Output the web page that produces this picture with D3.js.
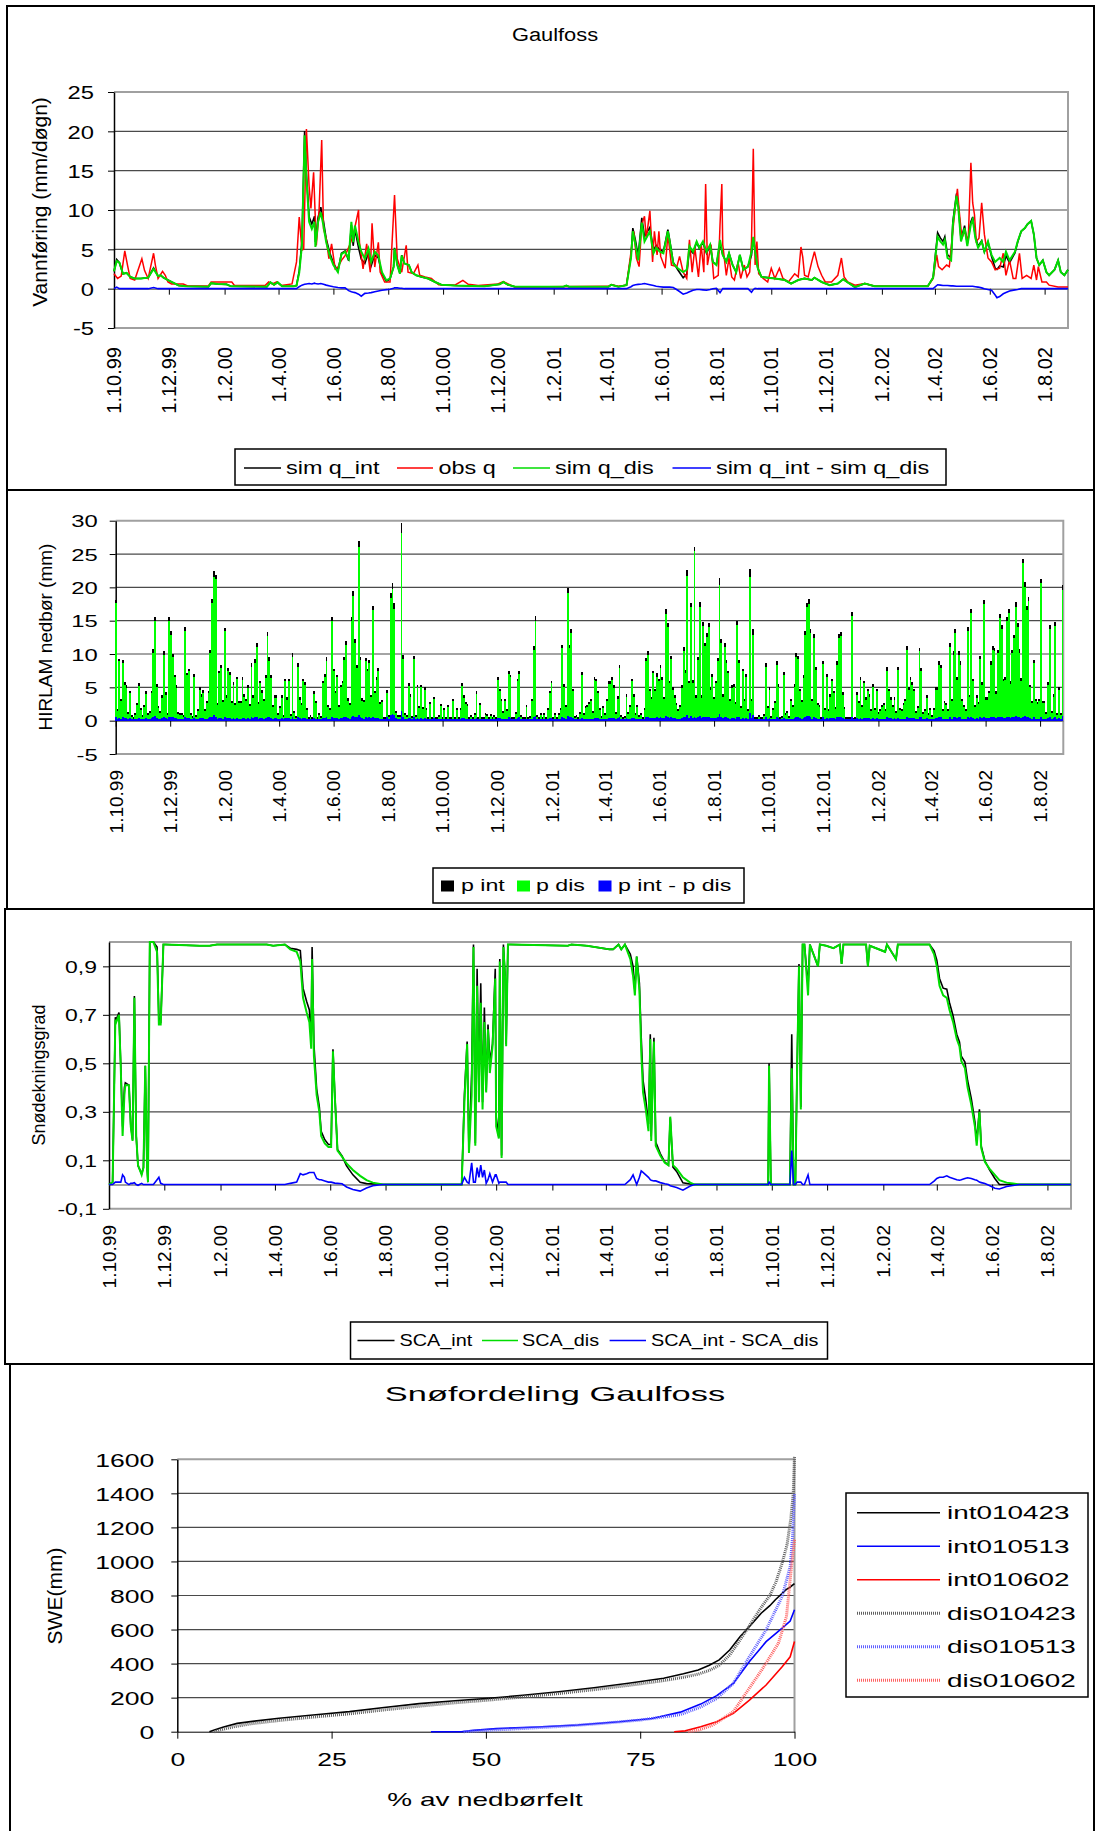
<!DOCTYPE html>
<!-- Gaulfoss: runoff, HIRLAM precipitation, snow cover and SWE distribution -->
<meta charset="utf-8">
<style>
 body { margin: 0; background: #fff; }
 svg text { font-family: "Liberation Sans", Arial, sans-serif; fill: #000; }
 .frame { fill: none; stroke: #000; stroke-width: 2px; }
 .grid { stroke: #4a4a4a; stroke-width: 1.2px; }
 .box { fill: none; stroke: #a0a0a0; stroke-width: 2px; }
 .legend { fill: #fff; stroke: #000; stroke-width: 1.5px; }
</style>

<svg id="chart" width="1095" height="1831"></svg>

<script src="https://cdn.jsdelivr.net/npm/d3@7"></script>

<script>
 // ---- panel 1: runoff (mm/day), day offsets from 1.10.99 ----
 var qDays = [0,3,6,10,14,18,23,30,38,44,
              49,52,55,60,64,72,80,105,108,115,
              125,130,170,174,178,182,187,200,203,206,
              209,212,214,217,220,223,224,227,230,233,
              236,240,244,249,253,257,261,264,266,268,
              272,275,279,283,286,290,294,298,303,307,
              311,312,315,318,320,323,328,331,336,342,
              349,357,364,379,398,412,429,433,438,446,
              500,503,506,550,553,561,570,575,577,580,
              583,587,590,596,600,603,607,611,616,618,
              622,627,633,637,640,644,648,651,655,659,
              663,666,670,674,677,681,684,688,692,696,
              700,705,709,711,713,716,720,727,735,746,
              753,761,768,776,779,787,796,805,811,816,
              824,835,846,905,911,916,919,922,924,927,
              931,933,937,939,942,946,949,953,955,958,
              961,965,968,972,976,980,982,985,989,992,
              996,1002,1005,1009,1013,1016,1020,1023,1026,1029,
              1033,1037,1040,1046,1050,1053,1057,1061];
 var qDis = [2.2,3.5,3.3,1.9,2.0,1.5,1.3,1.3,1.4,2.5,
             1.6,1.7,1.4,1.1,0.85,0.4,0.3,0.25,0.7,0.6,
             0.55,0.3,0.25,0.8,0.5,0.8,0.3,0.3,0.4,2.0,
             5.5,19.5,14,8.5,7.6,8.5,5.3,8.5,9.7,8.0,
             5.9,4.2,3.0,2.1,4.4,4.7,3.8,8.5,5.9,8.0,
             5.9,4.7,3.8,5.1,3.4,4.7,4.2,2.1,1.05,1.3,
             2.75,5.1,3.0,1.9,4.2,3.2,3.0,2.1,1.7,1.5,
             1.3,0.85,0.5,0.4,0.35,0.3,0.55,0.85,0.5,0.25,
             0.25,0.4,0.25,0.25,0.5,0.25,0.45,3.9,7.3,5.6,
             3.6,8.4,6.0,7.3,4.5,5.2,4.7,4.5,7.3,6.0,
             3.2,2.6,2.1,2.4,5.4,4.7,6.0,5.2,6.0,4.7,
             5.6,3.4,3.0,6.2,4.3,3.4,4.5,3.0,2.1,4.3,
             2.4,2.8,4.7,6.6,4.7,2.6,1.5,1.4,1.3,1.1,
             0.65,1.1,1.3,1.1,1.4,0.85,0.45,0.65,1.2,0.8,
             0.2,0.65,0.3,0.3,1.4,6.6,6.0,5.6,6.2,3.9,
             3.6,8.2,11.8,10.3,6.0,7.7,5.4,8.2,8.8,6.4,
             5.2,6.0,4.7,6.0,4.3,3.4,3.6,3.9,3.4,4.7,
             3.6,4.7,6.0,7.3,7.7,8.2,8.6,6.9,3.9,3.0,
             3.6,2.1,1.7,2.4,3.6,2.1,1.7,2.4];
 // sim q_int - sim q_dis (blue line)
 var qDiff = [0,0.2,0,0,0,0,0,0,0,0.15,
              0,0,0,0,0,0,0,0,0,0,
              0,0,0,0,0,0,0,0,0,0.25,
              0.45,0.55,0.6,0.65,0.6,0.7,0.65,0.6,0.65,0.55,
              0.45,0.35,0.25,0.15,0.1,0.1,-0.25,-0.4,-0.45,-0.5,
              -0.7,-0.95,-0.6,-0.55,-0.5,-0.4,-0.3,-0.2,-0.12,-0.08,
              0.05,0.1,0.1,0.05,0.05,0,0,0,0,0,
              0,0,0,0,0,0,0,0,0,0,
              0,0,0,0,0,0,0,0.25,0.4,0.5,
              0.55,0.6,0.65,0.5,0.4,0.3,0.25,0.2,0.2,0.2,
              0.15,-0.2,-0.7,-0.55,-0.4,-0.2,-0.1,-0.1,-0.15,-0.2,
              -0.1,0,0.05,-0.5,0,0,0,0,0,0,
              0,0,-0.45,-0.1,0.05,0,0,0,0,0,
              0,0,0,0,0,0,0,0,0,0,
              0,0,0,0,0,0.5,0.45,0.4,0.4,0.4,
              0.35,0.35,0.3,0.3,0.3,0.3,0.3,0.3,0.3,0.25,
              0.2,0.1,0,-0.1,-0.2,-0.8,-1.15,-1.0,-0.65,-0.5,
              -0.3,-0.15,-0.1,0,0,0,0,0,0,0,
              0,0,0,0,0,0,0,0];
 var qObsDays = [0,4,8,12,15,18,23,31,34,38,
                 44,46,49,54,57,60,64,70,77,82,
                 105,108,131,134,168,172,176,181,186,198,
                 203,206,209,211,214,217,219,222,225,228,
                 231,233,236,239,242,246,249,253,257,262,
                 266,272,273,277,281,285,287,290,294,296,
                 301,307,312,315,320,325,327,333,338,340,
                 346,353,361,379,388,394,405,427,433,440,
                 446,550,553,561,570,576,578,581,584,587,
                 590,592,596,599,601,604,606,608,613,616,
                 620,626,629,633,637,640,643,646,650,653,
                 656,658,660,664,667,672,674,676,677,681,
                 684,687,690,694,697,701,704,707,709,711,
                 713,715,717,722,727,731,735,740,744,750,
                 757,761,764,766,768,772,776,779,783,787,
                 791,798,805,809,812,816,824,835,846,905,
                 911,915,917,921,926,929,934,938,940,943,
                 946,950,953,955,957,959,962,965,968,972,
                 976,980,985,989,992,996,1000,1003,1007,1010,
                 1015,1020,1023,1026,1028,1032,1037,1040,1050,1061];
 var qObs = [1.9,1.3,1.6,4.8,3.0,1.3,1.1,3.8,2.3,1.3,
             4.5,3.0,1.3,2.2,1.7,0.85,0.6,0.6,0.6,0.35,
             0.35,0.85,0.85,0.4,0.4,0.85,0.6,0.85,0.4,0.6,
             3.4,9.1,4.9,5.0,20.3,13.0,10.2,14.8,5.5,9.7,
             18.9,7.6,6.4,3.8,5.7,2.5,2.75,3.6,4.2,5.5,
             6.8,10.0,5.9,2.5,5.7,2.1,8.3,2.75,5.9,2.1,
             0.85,0.85,11.9,3.8,2.1,5.5,2.1,1.9,3.0,1.7,
             1.5,1.3,0.5,0.45,1.05,0.55,0.4,0.6,0.9,0.5,
             0.2,0.3,0.5,0.3,0.45,5.5,7.3,3.9,2.8,8.2,
             9.2,6.4,9.9,3.4,7.3,4.3,7.3,4.1,2.6,6.9,
             3.0,2.8,4.1,2.1,1.3,6.2,2.1,5.2,1.5,5.6,
             2.1,13.3,3.0,5.6,1.3,1.7,8.2,13.3,5.6,1.7,
             3.9,1.5,1.1,3.4,1.3,3.0,1.5,2.1,6.0,17.8,
             3.0,6.0,1.9,1.3,0.85,2.6,1.3,2.6,1.3,0.85,
             1.9,1.5,5.3,4.0,1.7,1.5,3.4,4.7,2.8,1.7,
             0.85,0.85,1.7,3.9,1.5,0.85,0.45,0.65,0.3,0.3,
             1.3,4.3,2.8,2.4,3.0,2.8,8.6,12.7,9.9,6.4,
             7.3,6.0,16.0,10.9,9.4,6.0,6.4,10.9,6.9,3.9,
             3.4,2.4,2.6,4.5,1.7,3.6,1.3,1.3,4.5,1.3,
             1.7,1.3,3.0,1.1,2.8,0.85,0.85,0.45,0.2,0.2];

 // ---- panel 2: HIRLAM precipitation (mm), one bar per 2 days from 1.10.99 ----
 var pStep = 2;
 var pDis = [17.6,1.5,8.9,2.9,8.6,5.4,4.9,1.0,4.1,0.5,
             0.3,0.8,2.4,5.2,1.6,0.6,2.1,4.0,0.8,1.2,
             4.1,10.1,14.9,5.1,1.9,1.2,3.4,9.9,3.9,0.8,
             14.9,12.9,9.5,6.5,4.9,1.0,0.8,0.9,0.6,13.4,
             6.8,7.4,0.9,0.4,6.6,0.5,1.4,4.6,3.6,4.2,
             1.5,2.6,4.1,10.1,17.6,21.6,21.3,2.4,7.1,7.9,
             2.8,13.4,3.4,7.5,6.9,2.6,5.4,2.4,6.2,2.6,
             2.6,6.1,3.6,2.9,4.9,2.2,8.1,3.4,8.7,11.1,
             2.5,5.6,4.2,2.9,6.4,12.7,9.0,6.4,2.0,3.4,
             3.4,0.8,1.9,3.4,0.6,5.9,3.1,5.9,0.7,9.6,
             1.1,0.4,8.1,3.1,2.4,5.9,5.4,1.6,0.3,0.6,
             0.2,4.0,2.6,0.3,0.9,0.4,5.6,6.6,9.0,2.0,
             1.6,14.9,7.4,4.1,6.5,2.1,5.0,5.6,9.1,11.4,
             3.0,2.4,14.9,18.7,11.6,7.9,26.0,9.1,3.0,2.8,
             8.9,7.4,8.6,3.5,16.6,4.1,6.1,7.5,2.5,2.8,
             0.3,0.2,4.1,0.5,18.4,19.7,16.7,1.1,0.6,0.5,
             28.2,9.2,0.8,0.5,5.2,3.6,0.4,9.2,0.6,5.0,
             1.9,5.0,1.8,4.6,1.6,0.3,2.5,0.3,3.2,0.2,
             0.3,0.5,2.2,0.3,1.6,0.2,2.0,0.3,0.2,2.9,
             0.2,1.6,0.3,1.6,5.2,3.4,2.5,2.2,0.2,0.5,
             0.2,0.9,4.0,0.3,2.4,0.3,0.2,0.9,0.7,0.2,
             0.7,0.2,0.6,0.3,6.1,4.4,2.9,1.2,2.9,1.4,
             7.0,6.5,0.3,0.2,1.0,5.9,7.0,0.6,0.2,0.3,
             2.1,0.2,0.4,2.9,10.6,15.0,0.6,0.3,0.9,0.2,
             0.9,0.3,1.6,4.1,5.6,0.3,0.9,0.2,0.9,1.6,
             10.9,5.1,2.0,19.2,10.9,13.1,4.4,0.4,0.6,0.3,
             1.0,6.9,0.9,1.9,2.1,2.5,2.9,1.2,6.1,5.9,
             4.1,1.6,0.4,1.9,0.8,2.9,5.5,5.5,6.1,4.9,
             1.0,3.3,7.9,0.6,0.2,0.4,3.6,1.0,2.1,5.9,
             3.6,0.8,2.1,0.6,0.9,0.3,1.6,8.9,9.9,4.4,
             3.2,7.1,4.4,6.6,5.9,7.9,6.1,3.2,16.0,14.1,
             5.6,9.2,4.6,3.4,2.4,1.5,2.0,4.9,10.4,7.1,
             21.7,5.6,17.0,5.7,25.5,3.4,9.1,17.1,3.4,14.2,
             11.2,12.6,14.1,4.6,6.6,3.2,5.6,8.9,20.4,11.7,
             3.6,11.1,8.6,7.1,3.0,4.9,5.1,2.5,14.4,8.6,
             1.9,7.4,2.9,6.6,1.5,21.6,2.9,12.9,0.3,0.2,
             0.6,0.2,0.3,0.7,8.1,1.9,4.6,0.4,1.6,2.6,
             8.4,5.1,0.3,0.4,6.9,0.9,1.1,0.4,2.9,2.0,
             5.1,9.6,9.2,4.4,2.8,6.4,12.9,17.0,17.5,13.2,
             3.0,12.4,7.6,2.4,2.1,0.2,8.5,1.6,6.6,1.5,
             3.6,5.9,4.1,1.7,8.4,12.4,12.7,3.9,1.7,0.3,
             0.2,0.3,15.7,0.1,0.3,3.9,2.6,6.1,2.0,5.6,
             3.1,4.4,3.6,1.5,5.1,1.6,4.4,1.0,1.4,2.1,
             2.4,1.5,7.5,4.4,3.1,2.1,3.1,1.2,7.6,1.6,
             1.4,2.4,2.9,10.6,4.6,6.1,5.4,4.4,1.2,1.9,
             10.4,7.4,1.0,1.4,3.4,0.8,1.6,0.6,1.6,4.6,
             4.6,8.4,7.9,1.5,2.6,2.4,1.4,11.1,3.0,9.9,
             13.2,6.1,9.9,8.4,3.0,2.1,1.4,13.4,3.5,16.2,
             5.9,2.0,3.4,2.5,9.2,5.4,17.5,3.1,3.1,4.1,
             8.4,10.6,10.4,4.0,10.1,15.4,13.7,5.9,6.1,14.9,
             16.2,5.5,10.1,12.4,17.1,14.0,10.2,6.0,23.6,20.1,
             16.6,18.0,5.0,2.6,8.6,2.9,2.5,3.0,20.7,2.6,
             2.6,1.0,5.4,13.7,1.2,3.6,14.2,0.9,4.6,0.9,
             19.6];
 // p int - p dis (blue bars)
 var pDiff = [.5,.3,.4,.3,.5,.4,.4,.3,.4,.3,
              .3,.3,.3,.4,.3,.3,.3,.4,.3,.3,
              .4,.6,.7,.4,.3,.3,.4,.5,.4,.3,
              .6,.5,.5,.4,.4,.3,.3,.3,.3,.6,
              .4,.4,.3,.3,.4,.3,.3,.4,.4,.4,
              .3,.3,.4,.5,.6,.8,.5,.3,.4,.4,
              .3,.5,.4,.4,.4,.3,.4,.3,.4,.3,
              .3,.4,.4,.3,.4,.3,.5,.4,.5,.5,
              .3,.4,.4,.3,.4,.6,.5,.4,.3,.4,
              .4,.3,.3,.4,.3,.4,.4,.4,.3,.5,
              .3,.3,.5,.4,.3,.4,.4,.3,.3,.3,
              .3,.4,.3,.3,.3,.3,.4,.4,.5,.3,
              .3,.6,.4,.4,.4,.3,.4,.4,.5,.6,
              .4,.3,.6,.7,.6,.5,.9,.5,.4,.3,
              .5,.4,.5,.4,.6,.4,.4,.4,.3,.3,
              .3,.3,.5,.3,.8,1.0,.9,.4,.3,.3,
              1.4,.6,.3,.3,.4,.4,.3,.5,.3,.4,
              .3,.4,.3,.4,.3,.3,.3,.3,.4,.3,
              .3,.3,.3,.3,.3,.3,.3,.3,.3,.3,
              .3,.3,.3,.3,.4,.4,.3,.3,.3,.3,
              .3,.3,.4,.3,.3,.3,.3,.3,.3,.3,
              .3,.3,.3,.3,.4,.4,.3,.3,.3,.3,
              .5,.4,.3,.3,.3,.4,.5,.3,.3,.3,
              .3,.3,.3,.3,.6,.7,.3,.3,.3,.3,
              .3,.3,.3,.4,.4,.3,.3,.3,.3,.3,
              .5,.4,.3,.7,.5,.6,.4,.3,.3,.3,
              .3,.4,.3,.3,.3,.3,.3,.3,.4,.4,
              .4,.3,.3,.3,.3,.3,.4,.4,.4,.4,
              .3,.4,.5,.3,.3,.3,.4,.3,.3,.4,
              .4,.3,.3,.3,.3,.3,.3,.5,.5,.4,
              .4,.4,.4,.5,.4,.5,.4,.4,.7,.6,
              .4,.5,.4,.4,.3,.3,.3,.4,.6,.5,
              .9,.4,.7,.4,.5,.4,.5,.7,.4,.6,
              .5,.6,.6,.4,.4,.4,.4,.5,1.0,.5,
              .4,.5,.5,.4,.3,.4,.4,.3,.6,.5,
              .3,.4,.3,.4,.3,1.2,.4,.9,.3,.3,
              .3,.3,.3,.3,.5,.3,.4,.3,.3,.3,
              .5,.4,.3,.3,.4,.3,.3,.3,.3,.3,
              .4,.5,.5,.4,.3,.4,.6,.7,.7,.6,
              .3,.6,.4,.3,.3,.3,.5,.3,.4,.3,
              .4,.4,.4,.3,.5,.6,.6,.4,.3,.3,
              .3,.3,.6,.3,.3,.4,.3,.4,.3,.4,
              .4,.4,.4,.3,.4,.3,.4,.3,.3,.3,
              .3,.3,.5,.4,.4,.3,.4,.3,.4,.3,
              .3,.3,.3,.6,.4,.4,.4,.4,.3,.3,
              .5,.5,.3,.3,.4,.3,.3,.3,.3,.4,
              .4,.5,.5,.3,.3,.3,.3,.5,.3,.5,
              .6,.4,.5,.5,.3,.3,.3,.6,.4,.6,
              .4,.3,.4,.3,.5,.4,.6,.4,.4,.4,
              .5,.6,.5,.4,.5,.6,.6,.4,.4,.6,
              .6,.4,.5,.5,.7,.6,.5,.4,.6,.7,
              .6,.6,.4,.3,.5,.3,.3,.3,.6,.3,
              .3,.3,.4,.6,.3,.4,.6,.3,.4,.3,
              .7];

 // ---- panel 3: snow covered area fraction ----
 var scaDays = [0,4,7,8,11,13,15,17,18,22,
                24,26,28,30,32,36,38,40,42,43,
                45,49,53,55,57,60,62,100,111,119,
                135,174,181,194,200,207,211,214,218,221,
                223,224,226,229,232,234,238,242,245,247,
                249,252,257,262,269,277,284,291,302,389,
                392,395,397,400,402,404,406,408,410,412,
                414,416,418,420,423,426,427,430,431,433,
                435,437,438,440,443,506,510,527,552,556,
                562,565,569,575,578,580,582,585,587,589,
                592,595,597,598,601,603,608,613,617,619,
                622,626,633,641,646,727,728,730,751,753,
                755,757,759,761,763,765,767,771,773,782,
                784,791,799,806,808,810,835,837,839,856,
                858,868,870,905,910,913,916,920,924,927,
                931,935,938,940,944,947,951,955,957,960,
                962,966,971,977,982,990,997,1004,1061];
 var scaDis = [0,0.01,0.68,0.67,0.70,0.48,0.2,0.37,0.41,0.41,
               0.24,0.18,0.77,0.2,0.08,0.04,0.07,0.49,0.07,0.01,
               1,1,0.96,0.66,0.66,0.99,0.99,0.985,0.985,0.99,
               0.99,0.99,0.985,0.99,0.97,0.96,0.92,0.77,0.71,0.67,
               0.56,0.93,0.53,0.37,0.30,0.2,0.17,0.155,0.155,0.55,
               0.37,0.14,0.115,0.087,0.06,0.036,0.018,0.008,0,0,
               0.34,0.58,0.13,0.37,0.98,0.16,0.82,0.34,0.75,0.31,
               0.67,0.38,0.64,0.46,0.57,0.85,0.24,0.19,0.92,0.11,
               0.98,0.84,0.57,0.99,0.99,0.985,0.99,0.985,0.97,0.97,
               0.99,0.97,0.99,0.93,0.86,0.78,0.94,0.80,0.55,0.38,
               0.31,0.22,0.6,0.18,0.59,0.16,0.12,0.09,0.08,0.28,
               0.08,0.066,0.03,0.008,0,0,0.49,0,0,0.48,
               0,0,0.49,0.9,0.31,0.99,0.99,0.78,0.99,0.9,
               0.99,0.985,0.975,0.99,0.91,0.99,0.99,0.9,0.985,0.96,
               0.99,0.93,0.99,0.99,0.95,0.9,0.82,0.78,0.77,0.72,
               0.67,0.6,0.57,0.51,0.48,0.4,0.33,0.24,0.16,0.30,
               0.15,0.094,0.066,0.04,0.018,0.008,0.004,0,0];
 // SCA_int - SCA_dis (blue line)
 var scaDiff = [0,0,0.01,0.01,0.01,0.01,0.04,0.03,0.01,0,
                0.005,0.005,0.008,0,-0.003,0.005,0,0,0,0,
                0,0,0.02,0.03,0.005,0,0,0,0,0,
                0,0,0,0,0.005,0.01,0.045,0.04,0.045,0.05,
                0.05,0.05,0.05,0.025,0.02,0.02,0.015,0.01,0.01,0.008,
                0.006,0.005,0.003,-0.01,-0.02,-0.027,-0.014,-0.005,0,0,
                0.03,0.01,0.005,0.09,0.01,0.01,0.07,0.03,0.08,0.03,
                0.06,0.005,0.02,0.045,0.01,0.04,0.04,0.005,0.01,0.01,
                0.01,0.01,0.01,0,0,0,0,0,0,0,
                0,0,0,0.02,0.04,0.02,0,0.03,0.056,0.05,
                0.04,0.03,0.02,0.018,0.015,0.015,0.008,0.003,0,-0.005,
                -0.008,-0.012,-0.023,-0.006,0,0,0.01,0,0,0.14,
                0,0,0.01,0.01,0.01,0,0,0.04,0,0,
                0,0,0,0,0,0,0,0,0,0,
                0,0,0,0,0.014,0.025,0.03,0.03,0.036,0.03,
                0.025,0.02,0.018,0.02,0.025,0.028,0.025,0.02,0.018,0.01,
                0.008,0.004,-0.004,-0.015,-0.018,-0.008,-0.004,0,0];

 // ---- panel 4: SWE distribution, [% of catchment, SWE mm] ----
 var int010423 = [[5.2,0],[6,10],[7.5,28],[9.7,49],[12.5,62],[16.5,79],[22,98],[27.9,118],[33.5,142],[39.2,165],
                  [45,182],[50.5,196],[56,214],[61.8,235],[67.5,258],[73.1,285],[78.8,314],[82,340],[84.4,363],
                  [86.2,390],[87.8,422],[89.5,480],[91.2,559],[93,630],[94.6,696],[96,740],[96.9,775],[98.6,833],
                  [99.3,850],[100,870]];
 var int010513 = [[41.1,0],[46,0],[48,8],[51.7,18],[58.3,28],[64.9,39],[71.6,58],[76.9,78],[81.5,115],[84.8,162],
                  [87.4,212],[90.1,284],[92.7,412],[95.4,529],[98,608],[99.3,650],[100,716]];
 var int010602 = [[80.5,0],[82.3,5],[84.8,29],[87.4,59],[90.1,108],[92.7,186],[95.4,274],[98,382],[99.3,440],[100,530]];
 var dis010423 = [[6,0],[7,10],[9,28],[12,47],[16.5,66],[22,86],[27.9,105],[33.5,128],[39.2,150],[45,170],
                  [50.5,186],[56,204],[61.8,224],[67.5,247],[73.1,272],[78.8,300],[82,320],[84.4,338],[86.2,360],
                  [87.8,390],[89.5,450],[91.2,540],[93,640],[94.6,730],[96,800],[97,880],[98,990],[98.8,1100],
                  [99.4,1250],[99.8,1400],[100,1620]];
 var dis010513 = [[46.4,0],[50.4,8],[55,17],[61.6,30],[68.3,47],[74.9,68],[81.5,100],[84.8,145],[87.4,195],
                  [90.1,284],[92.7,441],[95.4,598],[98,794],[99.3,970],[99.7,1150],[100,1400]];
 var dis010602 = [[82.8,0],[84.5,10],[86.8,39],[90.1,118],[92.1,225],[94.7,363],[97.4,520],[98.7,677],[99.4,931],[100,1128]];

 // ---------------------------------------------------------------
 var svg = d3.select("#chart");

 var t0 = new Date(1999, 9, 1);
 function day(d) { return d3.timeDay.offset(t0, d); }
 var tickDates = d3.timeMonth.range(t0, new Date(2002, 8, 1), 2);
 var fmtDate = d3.timeFormat("%-d.%-m.%y");
 var no = d3.formatLocale({decimal: ",", thousands: "", grouping: [3], currency: ["", ""], minus: "-"});

 // the original picture is stretched sideways, so widen the glyphs the same way
 function stretch(sel, k) {
     sel.each(function() {
	 var t = d3.select(this);
	 var x = +t.attr("x") || 0;
	 t.attr("x", x / k).attr("transform", "scale(" + k + ",1)");
     });
 }

 function label(x, y, txt, size, k, anchor) {
     var t = svg.append("text").attr("x", x).attr("y", y)
		.attr("font-size", size).attr("text-anchor", anchor || "start").text(txt);
     if (k) stretch(t, k);
     return t;
 }

 function vlabel(x, y, txt, size) {
     return svg.append("text").attr("transform", "translate(" + x + "," + y + ") rotate(-90)")
	       .attr("font-size", size).attr("text-anchor", "middle").text(txt);
 }

 // outer frames of the four pasted charts
 [[7, 6, 1087, 484], [7, 490, 1087, 419], [5, 909, 1089, 455], [10, 1364, 1084, 480]].forEach(function(r) {
     svg.append("rect").attr("class", "frame")
	.attr("x", r[0]).attr("y", r[1]).attr("width", r[2]).attr("height", r[3]);
 });

 // common frame for the three date panels
 function datePanel(x, y, o) {
     var g = svg.append("g");
     var xr = x.range(), yr = y.range();

     g.selectAll(".grid").data(o.grid).enter().append("line")
      .attr("class", "grid")
      .attr("x1", xr[0]).attr("x2", xr[1])
      .attr("y1", function(d) { return y(d); }).attr("y2", function(d) { return y(d); });

     g.append("path").attr("class", "box")
      .attr("d", "M" + xr[0] + "," + yr[1] + "H" + xr[1] + "V" + yr[0] + "H" + xr[0]);

     var xa = g.append("g").attr("transform", "translate(0," + y(0) + ")")
	       .call(d3.axisBottom(x).tickValues(tickDates).tickSize(6).tickSizeOuter(0).tickFormat(""));
     xa.select(".domain").attr("stroke", "#808080").attr("stroke-width", 1.5);

     var ya = g.append("g").attr("transform", "translate(" + xr[0] + ",0)")
	       .call(d3.axisLeft(y).tickValues(o.ticks).tickSize(6).tickSizeOuter(0)
			  .tickPadding(o.pad).tickFormat(o.fmt));
     ya.select(".domain").attr("stroke-width", 1.5);
     ya.selectAll("text").attr("font-size", o.tickSize).attr("dy", "0.36em");
     stretch(ya.selectAll("text"), o.tickK);

     g.selectAll(".dl").data(tickDates).enter().append("text")
      .attr("transform", function(d) { return "translate(" + x(d) + "," + o.labelTop + ") rotate(-90)"; })
      .attr("text-anchor", "end").attr("dy", "0.36em").attr("font-size", o.labelSize)
      .text(fmtDate);
     return g;
 }

 function lineLegend(box, items, ly, ty, size, k) {
     svg.append("rect").attr("class", "legend")
	.attr("x", box[0]).attr("y", box[1]).attr("width", box[2]).attr("height", box[3]);
     items.forEach(function(it) {
	 svg.append("line").attr("x1", it[1]).attr("x2", it[2]).attr("y1", ly).attr("y2", ly)
	    .attr("stroke", it[3]).attr("stroke-width", 1.5);
	 label(it[4], ty, it[0], size, k);
     });
 }

 // ================= panel 1 =================
 label(555, 41, "Gaulfoss", 19, 1.15, "middle");

 var x1 = d3.scaleTime().domain([t0, day(1061)]).range([114, 1068]);
 var y1 = d3.scaleLinear().domain([-5, 25]).range([328, 92]);

 datePanel(x1, y1, {grid: [5, 10, 15, 20], ticks: d3.range(-5, 26, 5), fmt: no.format("d"),
		    pad: 14, tickSize: 19, tickK: 1.25, labelTop: 347, labelSize: 20});
 vlabel(47, 202, "Vannføring (mm/døgn)", 21);

 var q = qDays.map(function(d, i) { return {d: d, dis: qDis[i], diff: qDiff[i]}; });
 var obs = qObsDays.map(function(d, i) { return {d: d, v: qObs[i]}; });
 function qLine(f) { return d3.line().x(function(p) { return x1(day(p.d)); }).y(function(p) { return y1(f(p)); }); }

 // sim q_int is the dis series plus the plotted difference
 svg.append("path").datum(q).attr("fill", "none").attr("stroke", "#000").attr("stroke-width", 1.6)
    .attr("d", qLine(function(p) { return p.dis + p.diff; }));
 svg.append("path").datum(obs).attr("fill", "none").attr("stroke", "#ff0000").attr("stroke-width", 1.5)
    .attr("d", qLine(function(p) { return p.v; }));
 svg.append("path").datum(q).attr("fill", "none").attr("stroke", "#00dd00").attr("stroke-width", 2)
    .attr("d", qLine(function(p) { return p.dis; }));
 svg.append("path").datum(q).attr("fill", "none").attr("stroke", "#0000ff").attr("stroke-width", 1.6)
    .attr("d", qLine(function(p) { return p.diff; }));

 lineLegend([235, 449, 711, 36],
	    [["sim q_int", 244, 281, "#000", 286], ["obs q", 397, 433, "#ff0000", 438.5],
	     ["sim q_dis", 513, 550, "#00dd00", 555], ["sim q_int - sim q_dis", 672.5, 711, "#0000ff", 716]],
	    468, 474.5, 18, 1.3);

 // ================= panel 2 =================
 var x2 = d3.scaleTime().domain([t0, day(1061)]).range([115.7, 1063.3]);
 var y2 = d3.scaleLinear().domain([-5, 30]).range([754, 520.7]);

 datePanel(x2, y2, {grid: [5, 10, 15, 20, 25], ticks: d3.range(-5, 31, 5), fmt: no.format("d"),
		    pad: 12, tickSize: 17, tickK: 1.4, labelTop: 770, labelSize: 19});
 vlabel(52, 637, "HIRLAM nedbør (mm)", 19);

 var p = pDis.map(function(v, i) { return {d: i * pStep, dis: v, diff: pDiff[i]}; });
 var bw = 1.8;
 function bars(color, f) {
     svg.append("g").selectAll("rect").data(p).enter().append("rect")
	.attr("x", function(b) { return x2(day(b.d)) - bw / 2; })
	.attr("width", bw)
	.attr("y", function(b) { return y2(f(b)); })
	.attr("height", function(b) { return y2(0) - y2(f(b)); })
	.attr("fill", color).attr("shape-rendering", "crispEdges");
 }
 bars("#000", function(b) { return b.dis + b.diff; });
 bars("#00ff00", function(b) { return b.dis; });
 bars("#0000ff", function(b) { return b.diff; });

 svg.append("rect").attr("class", "legend").attr("x", 433).attr("y", 868).attr("width", 311).attr("height", 35);
 [["p int", 441, "#000", 461], ["p dis", 517, "#00ff00", 536], ["p int - p dis", 598.5, "#0000ff", 618]].forEach(function(it) {
     svg.append("rect").attr("x", it[1]).attr("y", 880.5).attr("width", 13).attr("height", 11).attr("fill", it[2]);
     label(it[3], 891.5, it[0], 16, 1.45);
 });

 // ================= panel 3 =================
 var x3 = d3.scaleTime().domain([t0, day(1061)]).range([109, 1071]);
 var y3 = d3.scaleLinear().domain([-0.1, 1.0]).range([1208.8, 942.1]);

 datePanel(x3, y3, {grid: [0.1, 0.3, 0.5, 0.7, 0.9], ticks: [-0.1, 0.1, 0.3, 0.5, 0.7, 0.9], fmt: no.format(".1f"),
		    pad: 6, tickSize: 17, tickK: 1.35, labelTop: 1225, labelSize: 19});
 vlabel(45, 1075, "Snødekningsgrad", 18);

 var s = scaDays.map(function(d, i) { return {d: d, dis: scaDis[i], diff: scaDiff[i]}; });
 function sLine(f) { return d3.line().x(function(p) { return x3(day(p.d)); }).y(function(p) { return y3(f(p)); }); }
 svg.append("path").datum(s).attr("fill", "none").attr("stroke", "#000").attr("stroke-width", 1.6)
    .attr("d", sLine(function(p) { return p.dis + p.diff; }));
 svg.append("path").datum(s).attr("fill", "none").attr("stroke", "#00dd00").attr("stroke-width", 2)
    .attr("d", sLine(function(p) { return p.dis; }));
 svg.append("path").datum(s).attr("fill", "none").attr("stroke", "#0000ff").attr("stroke-width", 1.6)
    .attr("d", sLine(function(p) { return p.diff; }));

 lineLegend([350.5, 1322, 477, 37],
	    [["SCA_int", 357.5, 394.5, "#000", 399.5], ["SCA_dis", 482, 518, "#00dd00", 522],
	     ["SCA_int - SCA_dis", 609.6, 646, "#0000ff", 651]],
	    1340.5, 1346.5, 16, 1.24);

 // ================= panel 4 =================
 label(555, 1401, "Snøfordeling Gaulfoss", 20, 1.72, "middle");

 var x4 = d3.scaleLinear().domain([0, 100]).range([177.3, 794.5]);
 var y4 = d3.scaleLinear().domain([0, 1600]).range([1731.7, 1459.3]);

 svg.append("g").selectAll("line").data(d3.range(200, 1600, 200)).enter().append("line")
    .attr("class", "grid").attr("x1", x4(0)).attr("x2", x4(100))
    .attr("y1", function(d) { return y4(d); }).attr("y2", function(d) { return y4(d); });
 svg.append("path").attr("class", "box")
    .attr("d", "M" + x4(0) + "," + y4(1600) + "H" + x4(100) + "V" + y4(0));

 var ax4 = svg.append("g").attr("transform", "translate(0," + y4(0) + ")")
	      .call(d3.axisBottom(x4).tickValues([0, 25, 50, 75, 100]).tickSize(7).tickSizeOuter(0)
			 .tickPadding(14).tickFormat(no.format("d")));
 ax4.selectAll("text").attr("font-size", 19);
 stretch(ax4.selectAll("text"), 1.4);
 var ay4 = svg.append("g").attr("transform", "translate(" + x4(0) + ",0)")
	      .call(d3.axisLeft(y4).tickValues(d3.range(0, 1601, 200)).tickSize(6).tickSizeOuter(0)
			 .tickPadding(17).tickFormat(no.format("d")));
 ay4.select(".domain").attr("stroke-width", 1.5);
 ay4.selectAll("text").attr("font-size", 19).attr("dy", "0.36em");
 stretch(ay4.selectAll("text"), 1.4);

 label(485, 1806, "% av nedbørfelt", 18, 1.55, "middle");
 vlabel(62, 1596, "SWE(mm)", 21);

 var sweSeries = [
     {name: "int010423", data: int010423, color: "#000", w: 1.6, dash: null},
     {name: "int010513", data: int010513, color: "#0000ff", w: 1.6, dash: null},
     {name: "int010602", data: int010602, color: "#ff0000", w: 1.6, dash: null},
     {name: "dis010423", data: dis010423, color: "#606060", w: 3, dash: "1,1"},
     {name: "dis010513", data: dis010513, color: "#6060ff", w: 3, dash: "1,1"},
     {name: "dis010602", data: dis010602, color: "#ff6060", w: 3, dash: "1,1"}
 ];
 var sweLine = d3.line().x(function(d) { return x4(d[0]); }).y(function(d) { return y4(d[1]); });
 sweSeries.forEach(function(se) {
     svg.append("path").datum(se.data).attr("fill", "none").attr("stroke", se.color)
	.attr("stroke-width", se.w).attr("stroke-dasharray", se.dash).attr("d", sweLine);
 });

 svg.append("rect").attr("class", "legend").attr("x", 846).attr("y", 1493).attr("width", 242).attr("height", 204);
 sweSeries.forEach(function(se, i) {
     var cy = 1512.7 + i * 33.5;
     svg.append("line").attr("x1", 857).attr("x2", 940).attr("y1", cy).attr("y2", cy)
	.attr("stroke", se.color).attr("stroke-width", se.w).attr("stroke-dasharray", se.dash);
     label(947, cy + 6.5, se.name, 18, 1.55);
 });
</script>
